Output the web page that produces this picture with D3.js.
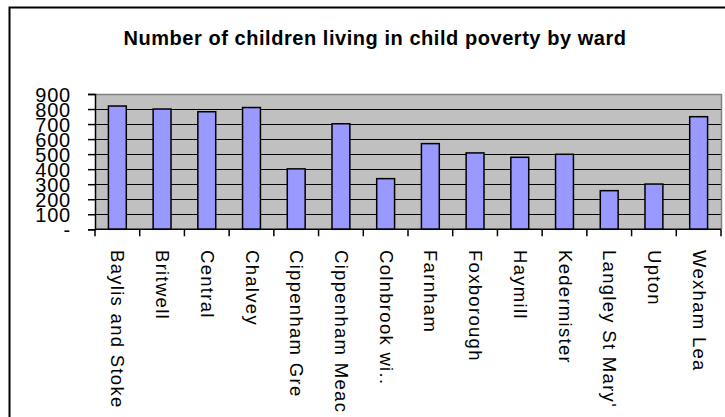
<!DOCTYPE html>
<html><head><meta charset="utf-8">
<script src="https://cdn.jsdelivr.net/npm/d3@7"></script>
<style>body{margin:0;background:#fff;}svg{display:block;}</style>
</head><body>
<svg id="c" width="725" height="417"></svg>
<script>
const categories = ["Baylis and Stoke","Britwell","Central","Chalvey","Cippenham Gre","Cippenham Meac","Colnbrook wi..","Farnham","Foxborough","Haymill","Kedermister","Langley St Mary'","Upton","Wexham Lea"];
const values = [820, 800, 782, 810, 402, 702, 337, 570, 508, 479, 499, 257, 301, 749];
const yTicks = [0,100,200,300,400,500,600,700,800,900];
const yTickLabels = ["-","100","200","300","400","500","600","700","800","900"];
const title = "Number of children living in child poverty by ward";

const svg = d3.select("#c");
const L = 95, R = 721, T = 94, B = 229.3;

svg.append("rect").attr("x",9.5).attr("y",7.5).attr("width",760).attr("height",440)
  .attr("fill","#fff").attr("stroke","#000").attr("stroke-width",2);

svg.append("text").attr("x",375).attr("y",45).attr("text-anchor","middle")
  .attr("font-family","Liberation Sans, Arial, sans-serif").attr("font-weight","bold")
  .attr("font-size",20).attr("letter-spacing","0.55px").attr("fill","#000").text(title);

const x = d3.scaleBand().domain(categories).range([L,R]).paddingInner(0.6).paddingOuter(0.3);
const xb = d3.scaleBand().domain(categories).range([L,R]);
const y = d3.scaleLinear().domain([0,900]).range([B,T]);

svg.append("rect").attr("x",L).attr("y",T).attr("width",R-L).attr("height",B-T).attr("fill","#c0c0c0");

// gridlines
svg.append("g").selectAll("line").data(yTicks.filter(d=>d>0 && d<900)).join("line")
  .attr("x1",L).attr("x2",R).attr("y1",d=>Math.round(y(d))+0.5).attr("y2",d=>Math.round(y(d))+0.5)
  .attr("stroke","#000").attr("stroke-width",1.2);

// plot border top/right gray
svg.append("path").attr("d",`M${L},${T+0.5}H${R+0.5}V${B}`).attr("fill","none").attr("stroke","#808080").attr("stroke-width",1.5);

// bars
svg.append("g").selectAll("rect").data(values).join("rect")
  .attr("x",(d,i)=>x(categories[i])).attr("width",x.bandwidth())
  .attr("y",d=>y(d)).attr("height",d=>B-y(d))
  .attr("fill","#9999ff").attr("stroke","#000").attr("stroke-width",1.5);

// y axis
const ya = svg.append("g").attr("transform",`translate(${L},0)`)
  .call(d3.axisLeft(y).tickValues(yTicks).tickFormat((d,i)=>yTickLabels[i]).tickSize(7).tickPadding(17));
ya.select(".domain").attr("stroke","#000").attr("stroke-width",1.5);
ya.selectAll(".tick line").attr("stroke","#000").attr("stroke-width",1.5);
ya.selectAll(".tick text").attr("font-family","Liberation Sans, Arial, sans-serif")
  .attr("font-size",20).attr("letter-spacing","0.8px").attr("fill","#000").attr("dy","0.36em");

// x axis
const xa = svg.append("g").attr("transform",`translate(0,${B})`);
xa.append("line").attr("x1",L).attr("x2",R).attr("stroke","#000").attr("stroke-width",1.5);
const bounds = categories.map(c=>xb(c)).concat([R]);
xa.selectAll(".tk").data(bounds).join("line").attr("class","tk")
  .attr("x1",d=>d).attr("x2",d=>d).attr("y1",0).attr("y2",7).attr("stroke","#000").attr("stroke-width",1.5);
xa.selectAll(".lbl").data(categories).join("text").attr("class","lbl")
  .attr("transform",d=>`translate(${xb(d)+xb.bandwidth()/2},${250-B}) rotate(90)`)
  .attr("dy",6).attr("text-anchor","start")
  .attr("font-family","Liberation Sans, Arial, sans-serif").attr("font-size",18.5)
  .attr("letter-spacing","1.3px").attr("fill","#000").text(d=>d);
</script>
</body></html>
